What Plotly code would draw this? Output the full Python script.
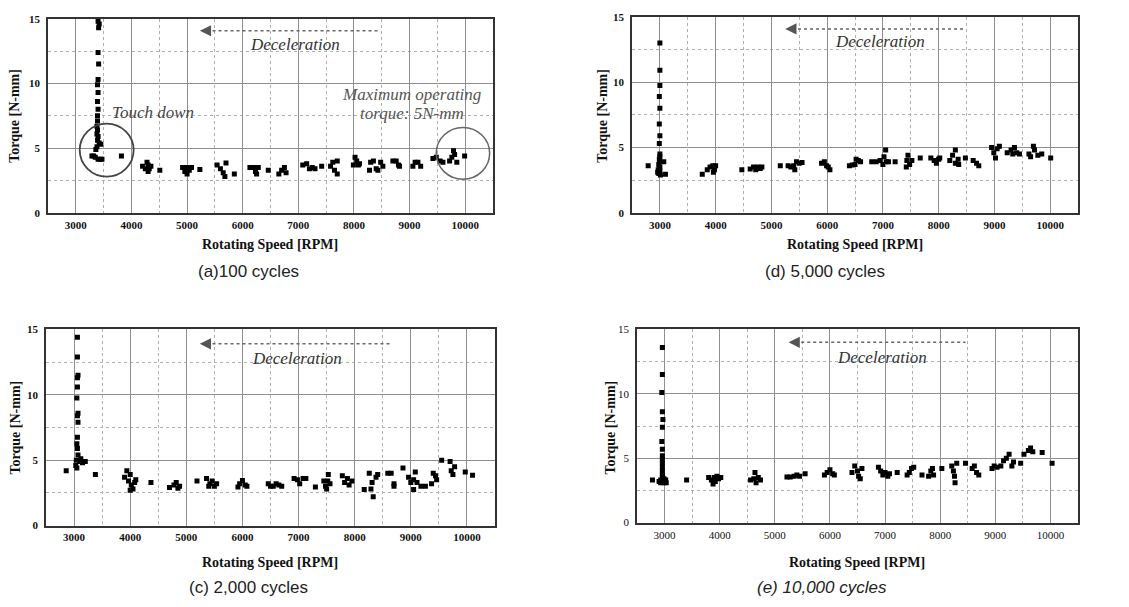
import plotly.graph_objects as go

# ---------------- data ----------------
rpm_a = [3400, 3420, 3410, 3400, 3410, 3400, 3390, 3400, 3390, 3400, 3390, 3390, 3380, 3390, 3380, 3400, 3390, 3420, 3450, 3380, 3360,
         3290, 3320, 3350, 3400, 3440, 3470, 3820,
         4200, 4250, 4280, 4300, 4320, 4300, 4350, 4510,
         4920, 4960, 5000, 5000, 5040, 5080, 5230,
         5540, 5600, 5650, 5680, 5700, 5850,
         6130, 6200, 6230, 6250, 6280, 6460,
         6650, 6700, 6750, 6780,
         7080, 7150, 7200, 7250, 7300, 7420,
         7580, 7620, 7650, 7700, 7700,
         7990, 8020, 8050, 8080, 8100,
         8280, 8300, 8350, 8400, 8430, 8480, 8520,
         8700, 8760, 8800, 8820,
         9060, 9100, 9150, 9200,
         9420, 9480, 9550, 9600,
         9720, 9760, 9790, 9810, 9850, 9990]
torque_a = [14.8, 14.6, 14.3, 12.4, 11.5, 10.3, 9.9, 9.3, 8.6, 8.0, 7.5, 7.1, 6.7, 6.4, 6.1, 5.9, 5.6, 5.4, 5.3, 5.1, 4.9,
            4.4, 4.4, 4.3, 4.15, 4.15, 4.15, 4.4,
            3.6, 3.4, 3.9, 3.7, 3.4, 3.2, 3.6, 3.3,
            3.5, 3.2, 3.5, 3.0, 3.3, 3.5, 3.35,
            3.7, 3.4, 3.1, 2.8, 3.85, 3.0,
            3.5, 3.5, 3.2, 3.0, 3.5, 3.3,
            3.0, 3.3, 3.5, 3.1,
            3.7, 3.8, 3.4, 3.5, 3.4, 3.6,
            3.6, 3.9, 3.3, 3.0, 4.0,
            3.7, 4.3, 4.0, 3.7, 3.8,
            3.3, 3.9, 4.0, 3.4, 3.3, 3.9, 3.6,
            4.0, 4.0, 3.7, 3.6,
            3.6, 3.9, 3.9, 3.6,
            4.2, 4.3, 4.0, 3.9,
            4.0, 4.3, 4.8, 4.5, 3.9, 4.4]

rpm_d = [2790,
         3000, 3000, 3000, 2990, 3000, 2990, 3000, 2990, 3000, 3000, 2990, 3000, 2980, 3000, 2970, 3000, 2980, 3010, 2960,
         3070, 3100,
         3760, 3850, 3900, 3950, 3960, 4000, 3980, 4470,
         4620, 4680, 4720, 4760, 4800, 4830, 5160,
         5300, 5350, 5400, 5450, 5500, 5550, 5420,
         5900, 5950, 5990, 6050, 6020,
         6400, 6450, 6500, 6520, 6560, 6600,
         6800, 6880, 6950, 7000, 7020, 7050, 7060, 7100, 7220,
         7420, 7430, 7450, 7480, 7520, 7670,
         7860, 7920, 7960, 8000, 8020,
         8200, 8250, 8300, 8300, 8350, 8360, 8480,
         8620, 8680, 8720,
         8950, 8990, 9050, 9020, 9090,
         9230, 9300, 9360, 9400, 9450, 9330,
         9620, 9650, 9700, 9720, 9780, 9850, 10010]
torque_d = [3.6,
            13.0, 10.9, 9.75, 8.9, 8.0, 6.8, 5.9, 5.3, 4.5, 4.3, 4.1, 3.9, 3.7, 3.5, 3.3, 3.2, 3.0, 2.9, 3.1,
            3.9, 2.95,
            2.95, 3.3, 3.5, 3.6, 3.1, 3.6, 3.3, 3.3,
            3.35, 3.5, 3.3, 3.5, 3.4, 3.5, 3.6,
            3.6, 3.5, 3.6, 3.9, 3.8, 3.85, 3.3,
            3.8, 3.9, 3.6, 3.3, 3.5,
            3.6, 3.65, 3.7, 4.1, 4.0, 3.9,
            3.9, 3.9, 4.0, 3.7, 4.3, 4.8, 3.9, 3.9, 3.9,
            3.5, 4.0, 4.4, 3.7, 4.0, 4.2,
            4.2, 4.0, 3.8, 4.1, 4.2,
            4.0, 4.4, 4.8, 3.8, 4.1, 3.7, 4.2,
            4.0, 3.8, 3.6,
            5.0, 4.6, 4.9, 4.2, 5.1,
            4.6, 4.8, 5.0, 4.6, 4.5, 4.5,
            4.5, 4.3, 5.1, 4.8, 4.4, 4.5, 4.2]

rpm_c = [2860,
         3060, 3060, 3070, 3060, 3060, 3050, 3070, 3060, 3070, 3060, 3050, 3060, 3070, 3040, 3030, 3050,
         3100, 3150, 3200, 3120, 3380,
         3900, 3940, 3970, 4000, 4020, 4050, 4000, 4080, 4100, 4370,
         4700, 4780, 4820, 4850, 4880, 5190,
         5360, 5420, 5460, 5500, 5540, 5400,
         5920, 5950, 6000, 6050, 6080,
         6460, 6500, 6550, 6600, 6650, 6700,
         6920, 6980, 7020, 7080, 7130, 7300,
         7450, 7480, 7500, 7530, 7560, 7520,
         7780, 7820, 7870, 7900, 7950, 8170,
         8260, 8290, 8310, 8330, 8380, 8410,
         8590, 8650, 8700, 8700, 8860,
         8960, 9000, 9050, 9080, 9050, 9110, 9180, 9260,
         9370, 9400, 9440, 9460, 9550,
         9700, 9720, 9750, 9780, 9970, 10100]
torque_c = [4.2,
            14.4, 12.9, 11.5, 11.3, 10.6, 9.75, 8.6, 8.4, 7.9, 6.75, 6.25, 5.9, 5.4, 5.0, 4.6, 4.4,
            4.9, 4.8, 4.9, 5.1, 3.9,
            3.7, 4.2, 3.4, 3.9, 3.1, 2.8, 2.7, 3.3, 3.5, 3.3,
            2.9, 3.1, 3.3, 2.85, 3.0, 3.4,
            3.6, 3.2, 3.4, 3.0, 3.2, 3.0,
            2.95, 3.2, 3.45, 3.1, 3.0,
            3.2, 3.0, 3.0, 3.2, 3.1, 3.0,
            3.6, 3.5, 3.2, 3.6, 3.6, 2.95,
            3.4, 3.0, 2.8, 3.9, 3.2, 3.4,
            3.8, 3.3, 3.6, 3.1, 3.4, 2.75,
            4.0, 2.8, 3.3, 2.2, 3.7, 3.9,
            4.0, 4.0, 3.2, 3.0, 4.4,
            3.7, 3.3, 3.5, 4.1, 2.75, 3.3, 3.0, 3.0,
            3.2, 4.0, 3.8, 3.5, 5.0,
            4.9, 4.2, 3.9, 4.5, 4.1, 3.85]

rpm_e = [2780,
         2960, 2960, 2950, 2960, 2970, 2960, 2950, 2960, 2960, 2960, 2960, 2960, 2960, 2960, 2960, 2930, 2990, 2900, 3020, 2930, 2990, 3030,
         3400,
         3800, 3850, 3900, 3920, 3950, 3980, 4020, 3880,
         4560, 4620, 4640, 4660, 4700, 4740,
         5220, 5280, 5350, 5400, 5450, 5550,
         5900, 5950, 6000, 6050, 6080,
         6400, 6450, 6500, 6520, 6550, 6580,
         6880, 6920, 6960, 7000, 7050, 7080, 7220,
         7400, 7440, 7480, 7520, 7670,
         7790, 7830, 7860, 7880, 8030,
         8210, 8240, 8260, 8270, 8300, 8460,
         8580, 8620, 8660, 8700,
         8940, 8980, 9030,
         9100, 9150, 9200, 9250, 9300, 9330, 9460,
         9520, 9600, 9640, 9680, 9850, 10030]
torque_e = [3.3,
            13.6, 11.5, 10.1, 8.6, 8.0, 7.4, 6.3, 5.7, 5.2, 4.9, 4.6, 4.3, 4.0, 3.7, 3.5, 3.1, 3.1, 3.2, 3.3, 3.3, 3.4, 3.1,
            3.3,
            3.5, 3.3, 3.5, 3.2, 3.6, 3.4, 3.5, 3.0,
            3.3, 3.4, 3.9, 3.1, 3.5, 3.3,
            3.55, 3.55, 3.6, 3.7, 3.6, 3.8,
            3.7, 3.9, 4.1, 3.8, 3.7,
            3.9, 4.4, 4.0, 3.6, 3.4, 4.2,
            4.3, 4.0, 3.7, 3.9, 3.6, 3.8, 3.9,
            3.7, 3.9, 4.2, 4.3, 3.7,
            3.6, 4.0, 4.2, 3.7, 4.2,
            4.4, 4.0, 3.6, 3.1, 4.6, 4.6,
            4.2, 4.4, 3.9, 3.7,
            4.2, 4.4, 4.3,
            4.4, 4.8, 5.0, 5.3, 4.4, 4.7, 4.6,
            5.3, 5.6, 5.8, 5.5, 5.45, 4.6]

x_ticks = [3000, 4000, 5000, 6000, 7000, 8000, 9000, 10000]
x_tick_labels = ["3000", "4000", "5000", "6000", "7000", "8000", "9000", "10000"]
y_ticks = [0, 5, 10, 15]
captions = ["(a)100 cycles", "(d) 5,000 cycles", "(c) 2,000 cycles", "(e) 10,000 cycles"]

# ---------------- layout ----------------
W, H = 1129, 607
SERIF = "Liberation Serif, Times New Roman, serif"
SANS = "Liberation Sans, Arial, sans-serif"

# panel boxes in pixels: (left, right, top, bottom)
boxes = [(48, 493, 13, 211), (632, 1078, 11, 211), (46, 495, 330, 530), (637, 1078, 330, 527)]
panels = [(rpm_a, torque_a), (rpm_d, torque_d), (rpm_c, torque_c), (rpm_e, torque_e)]
bold_ticks = [True, True, True, False]
xtitle_px = [(270, 243), (855, 243), (270, 568), (857, 568)]
ytitle_px = [(15, 112), (603, 112), (15, 430), (610, 430)]
caption_px = [(248, 271), (825, 271), (248, 593), (822, 593)]

# arrow (head x, tail x, y) and text (x, y) in data units
arrows = [(5230, 8470, 14.07), (5250, 8450, 14.07), (5240, 8650, 13.9), (5250, 8460, 14.0)]
decel_text = [(6940, 12.98), (6950, 13.1), (6970, 12.75), (6940, 12.8)]


def px(xp, yp):
    return xp / W, 1 - yp / H


fig = go.Figure()
for i, ((l, r, t, b), (xs, ys)) in enumerate(zip(boxes, panels)):
    k = "" if i == 0 else str(i + 1)
    xa, ya = "x" + k, "y" + k
    fig.add_trace(go.Scatter(x=xs, y=ys, mode="markers", xaxis=xa, yaxis=ya,
                             marker=dict(symbol="square", size=5, color="black", line=dict(width=0)),
                             showlegend=False, hoverinfo="skip"))
    tf = dict(family=SERIF, size=11, color="#111", weight="bold" if bold_ticks[i] else "normal")
    axis_common = dict(showline=True, mirror=True, linecolor="#333", linewidth=1.5,
                       showgrid=True, gridcolor="#8f8f8f", gridwidth=1, zeroline=False,
                       ticks="", tickfont=tf, fixedrange=True)
    fig.layout["xaxis" + k] = dict(axis_common, domain=[l / W, r / W], range=[2500, 10500],
                                   tickvals=x_ticks, ticktext=x_tick_labels, anchor=ya, ticklabelstandoff=1,
                                   minor=dict(dtick=500, tick0=2500, showgrid=True, gridcolor="#b0b0b0",
                                              griddash="dot", gridwidth=1))
    fig.layout["yaxis" + k] = dict(axis_common, domain=[1 - b / H, 1 - t / H], range=[0, 15],
                                   tickvals=y_ticks, anchor=xa, ticklabelstandoff=4,
                                   minor=dict(dtick=2.5, tick0=0, showgrid=True, gridcolor="#b0b0b0",
                                              griddash="dot", gridwidth=1))
    # deceleration arrow
    hx, tx, ay = arrows[i]
    fig.add_shape(type="line", xref=xa, yref=ya, x0=hx + 120, x1=tx, y0=ay, y1=ay,
                  line=dict(color="#666", width=1.5, dash="dot"))
    fig.add_annotation(xref=xa, yref=ya, x=hx, y=ay, ax=hx + 160, ay=ay, axref=xa, ayref=ya,
                       showarrow=True, arrowhead=2, arrowsize=1.4, arrowwidth=1.6, arrowcolor="#555", text="")
    dx, dy = decel_text[i]
    fig.add_annotation(xref=xa, yref=ya, x=dx, y=dy, text="<i>Deceleration</i>", showarrow=False,
                       font=dict(family=SERIF, size=17, color="#333"))
    # axis titles and caption
    x0, y0 = px(*xtitle_px[i])
    fig.add_annotation(xref="paper", yref="paper", x=x0, y=y0, xanchor="center", yanchor="middle",
                       text="<b>Rotating Speed [RPM]</b>", showarrow=False,
                       font=dict(family=SERIF, size=14, color="#111"))
    x0, y0 = px(*ytitle_px[i])
    fig.add_annotation(xref="paper", yref="paper", x=x0, y=y0, xanchor="center", yanchor="middle",
                       text="<b>Torque [N-mm]</b>", showarrow=False, textangle=-90,
                       font=dict(family=SERIF, size=14, color="#111"))
    x0, y0 = px(*caption_px[i])
    fig.add_annotation(xref="paper", yref="paper", x=x0, y=y0, xanchor="center", yanchor="middle",
                       text=("<i>%s</i>" % captions[i]) if i == 3 else captions[i],
                       showarrow=False, font=dict(family=SANS, size=17, color="#222"))

# circles and notes on panel (a)
fig.add_shape(type="circle", xref="x", yref="y", x0=3070, x1=4040, y0=2.8, y1=6.9,
              line=dict(color="#444", width=1.8))
fig.add_shape(type="circle", xref="x", yref="y", x0=9480, x1=10440, y0=2.6, y1=6.6,
              line=dict(color="#666", width=1.5))
fig.add_annotation(xref="x", yref="y", x=4390, y=7.76, text="<i>Touch down</i>", showarrow=False,
                   font=dict(family=SERIF, size=17, color="#444"))
fig.add_annotation(xref="x", yref="y", x=9035, y=9.15, text="<i>Maximum operating</i>", showarrow=False,
                   font=dict(family=SERIF, size=17, color="#555"))
fig.add_annotation(xref="x", yref="y", x=9035, y=7.64, text="<i>torque: 5N-mm</i>", showarrow=False,
                   font=dict(family=SERIF, size=17, color="#555"))

fig.update_layout(width=W, height=H, autosize=False, margin=dict(l=0, r=0, t=0, b=0),
                  paper_bgcolor="white", plot_bgcolor="white", showlegend=False)
fig.write_html("out.html", config={"displayModeBar": False},
               post_script="document.body.style.margin='0';")
